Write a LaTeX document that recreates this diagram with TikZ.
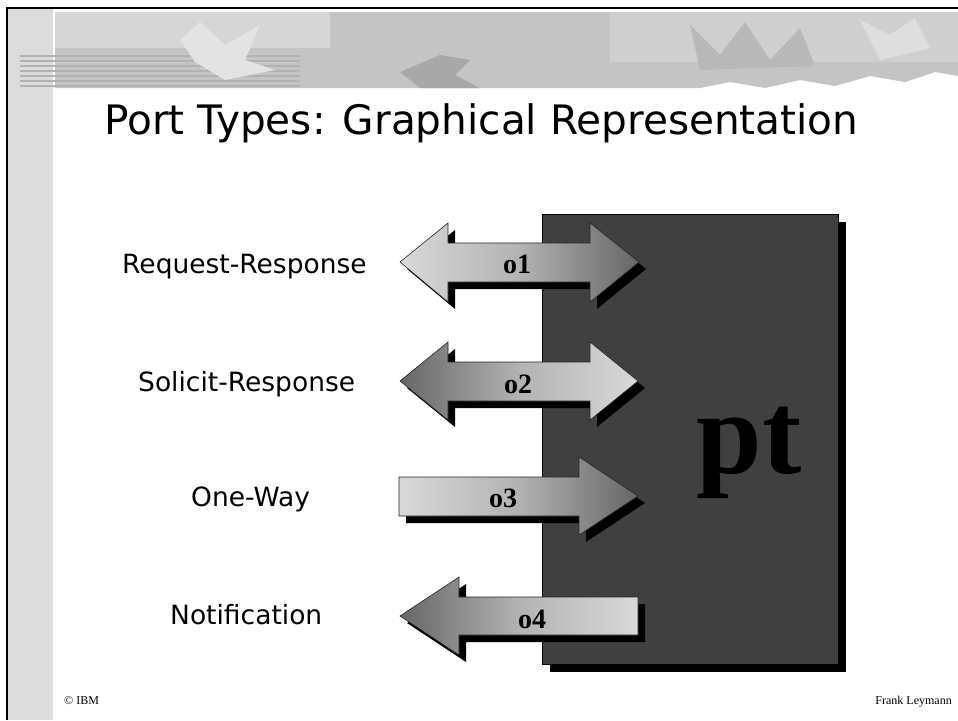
\documentclass[tikz,border=0pt]{standalone}
\usepackage{fontspec}
\setmainfont{Liberation Serif}
\newfontfamily\slidefont{DejaVu Sans}
\usetikzlibrary{shadows}
\tikzset{
  oplabel/.style  = {font=\fontsize{28}{30}\selectfont\bfseries, inner sep=0pt},
  kind/.style     = {font=\slidefont\fontsize{26.5}{30}\selectfont,
                     anchor=base west, inner sep=0pt},
  blockarr/.style = {draw=black!85, line width=0.6pt,
                     drop shadow={fill=black, opacity=1,
                                  shadow xshift=7pt, shadow yshift=-7pt}},
  lightdark/.style = {left color=black!15, right color=black!60,
                      middle color=black!30},
  darklight/.style = {left color=black!60, right color=black!15,
                      middle color=black!30},
}

\begin{document}
\begin{tikzpicture}[
  x=1pt, y=-1pt,
  ptbox/.style={rectangle, draw=black, line width=0.6pt, fill=black!75,
                minimum width=296pt, minimum height=450pt, inner sep=0pt,
                drop shadow={fill=black, opacity=1,
                             shadow xshift=8pt, shadow yshift=-8pt}},
  foot/.style={font=\fontsize{12}{14}\selectfont, inner sep=0pt},
]
  \useasboundingbox (0,0) rectangle (958,720);
  \fill[white] (0,0) rectangle (958,720);

  % slide background: left strip and top banner
  \fill[black!14] (8,9) rectangle (53,720);
  \fill[black!23] (55,12) -- (958,12) -- (958,76) -- (935,72) -- (905,82)
    -- (870,76) -- (835,86) -- (800,80) -- (765,88) -- (730,82) -- (700,88)
    -- (55,88) -- cycle;
  \fill[black!16] (55,12) rectangle (330,48);
  \fill[black!19] (610,12) rectangle (958,62);
  \foreach \yy in {56,61,...,86}
    \draw[black!30, line width=1.2pt] (20,\yy) -- (300,\yy);
  \fill[black!11] (200,22) -- (225,45) -- (260,25) -- (245,60) -- (275,70)
    -- (225,80) -- (195,62) -- (180,40) -- cycle;
  \fill[black!34] (400,72) -- (440,55) -- (470,60) -- (455,75) -- (480,88)
    -- (420,88) -- cycle;
  \fill[black!28] (690,25) -- (720,55) -- (745,22) -- (770,60) -- (800,28)
    -- (815,66) -- (700,70) -- cycle;
  \fill[black!13] (860,20) -- (890,35) -- (915,18) -- (930,48) -- (880,60) -- cycle;
  \draw[line width=2.5pt] (7,720) -- (7,8) -- (958,8);

  \node[anchor=base west, inner sep=0pt,
        font=\slidefont\fontsize{40.6}{44}\selectfont] (title) at (104,134)
    {Port Types: Graphical Representation};

  % port type box
  \node[ptbox] (box) at (690,439) {};
  \node[anchor=base, inner sep=0pt,
        font=\fontsize{118}{120}\selectfont\bfseries] (pt) at (749,473) {pt};

  % operations
  \path[blockarr, lightdark] (400,262) -- (448,223) -- (448,243) -- (590,243)
    -- (590,223) -- (639,262) -- (590,302) -- (590,282) -- (448,282)
    -- (448,302) -- cycle;
  \node[oplabel] (o1) at (517,264) {o1};

  \path[blockarr, darklight] (400,381) -- (448,342) -- (448,362) -- (590,362)
    -- (590,342) -- (638,381) -- (590,420) -- (590,401) -- (448,401)
    -- (448,420) -- cycle;
  \node[oplabel] (o2) at (518,384) {o2};

  \path[blockarr, lightdark] (399,477) -- (579,477) -- (579,457) -- (638,496)
    -- (579,535) -- (579,516) -- (399,516) -- cycle;
  \node[oplabel] (o3) at (503,498) {o3};

  \path[blockarr, darklight] (400,616) -- (459,577) -- (459,597) -- (638,597)
    -- (638,635) -- (459,635) -- (459,655) -- cycle;
  \node[oplabel] (o4) at (532,619) {o4};

  \node[kind] (rr) at (122,273) {Request-Response};
  \node[kind] (sr) at (138,391) {Solicit-Response};
  \node[kind] (ow) at (191,506) {One-Way};
  \node[kind] (nt) at (170,624) {Notification};

  \node[foot, anchor=base west] (ibm) at (64,704) {© IBM};
  \node[foot, anchor=base east] (author) at (952,704) {Frank Leymann};
\end{tikzpicture}
\end{document}
